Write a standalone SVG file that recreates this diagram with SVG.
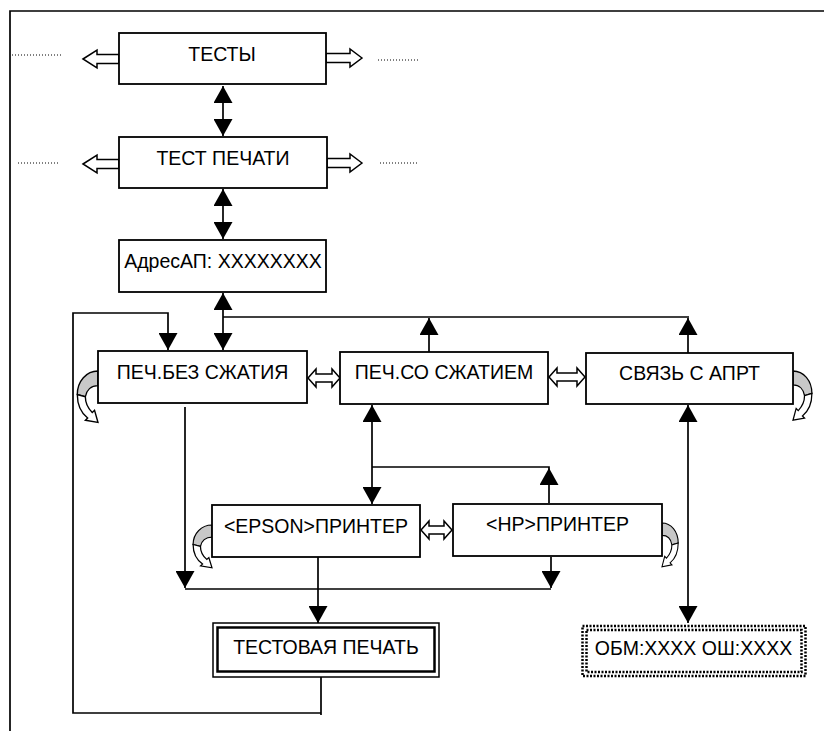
<svg xmlns="http://www.w3.org/2000/svg" width="824" height="731" viewBox="0 0 824 731">
<style>
  .box{fill:#fff;stroke:#000;stroke-width:1.8}
  .lbl{font-family:"Liberation Sans",Arial,sans-serif;font-size:19.5px;fill:#000;text-anchor:middle}
  .ln{fill:none;stroke:#000;stroke-width:1.7}
  .hol{fill:#fff;stroke:#000;stroke-width:1.5;stroke-linejoin:miter}
  .dot{stroke:#000;stroke-width:1;stroke-dasharray:1 2;fill:none}
  .dbx{fill:none;stroke:#000;stroke-width:2.5;stroke-dasharray:2 1.5}
  .cg{fill:#c8c8c8;stroke:#000;stroke-width:1.2}
  .cw{fill:#fff;stroke:#000;stroke-width:1.2}
</style>
<defs>
  <marker id="ah" viewBox="0 0 17 19" refX="17" refY="9.5" markerWidth="17" markerHeight="19" markerUnits="userSpaceOnUse" orient="auto-start-reverse">
    <path d="M0,0 L17,9.5 L0,19 Z" fill="#000"/>
  </marker>
  <g id="curl">
    <path class="cg" d="M0,0 C10,0 18,9 18,21 L11,23 C10,17 6,13 0,13 Z"/>
    <path class="cw" d="M18,21 C18,31 14,38 9,42 L11,44 L0,46 L3,35 L5,37 C9,33 11,28 11,23 Z"/>
  </g>
</defs>
<rect width="824" height="731" fill="#fff"/>
<g id="frame">
  <path class="ln" d="M10,731 L10,11 L824,11" stroke-width="2"/>
</g>
<g id="connectors">
  <path class="ln" d="M223,86 L223,136" marker-start="url(#ah)" marker-end="url(#ah)"/>
  <path class="ln" d="M223,189 L223,239" marker-start="url(#ah)" marker-end="url(#ah)"/>
  <path class="ln" d="M223,293 L223,350" marker-start="url(#ah)" marker-end="url(#ah)"/>
  <path class="ln" d="M223,317 L689,317"/>
  <path class="ln" d="M429,352 L429,318" marker-end="url(#ah)"/>
  <path class="ln" d="M688,353 L688,318" marker-end="url(#ah)"/>
  <path class="ln" d="M321,677 L321,715 M321,713 L73,713 L73,313 L168,313 L168,350" marker-end="url(#ah)"/>
  <path class="ln" d="M185,407 L185,588" marker-end="url(#ah)"/>
  <path class="ln" d="M185,589 L551,589"/>
  <path class="ln" d="M551,557 L551,588" marker-end="url(#ah)"/>
  <path class="ln" d="M372,405 L372,504" marker-start="url(#ah)" marker-end="url(#ah)"/>
  <path class="ln" d="M372,467 L549,467 L549,503 M549,503 L549,468" marker-end="url(#ah)"/>
  <path class="ln" d="M318,557 L318,623" marker-end="url(#ah)"/>
  <path class="ln" d="M688,405 L688,623" marker-start="url(#ah)" marker-end="url(#ah)"/>
  <polygon class="hol" points="83,59 97,50 97,54.5 119,54.5 119,63.5 97,63.5 97,68"/>
  <polygon class="hol" points="362,58 350,49 350,53.5 326,53.5 326,62.5 350,62.5 350,67"/>
  <polygon class="hol" points="83,164 97,155 97,159.5 119,159.5 119,168.5 97,168.5 97,173"/>
  <polygon class="hol" points="362,163 350,154 350,158.5 327,158.5 327,167.5 350,167.5 350,172"/>
  <polygon class="hol" points="308,378 316,369 316,374 332,374 332,369 340,378 332,387 332,382 316,382 316,387"/>
  <polygon class="hol" points="549,377 557,368 557,373 577,373 577,368 585,377 577,386 577,381 557,381 557,386"/>
  <polygon class="hol" points="421,530 429,521 429,526 444,526 444,521 452,530 444,539 444,534 429,534 429,539"/>
  <path class="dot" d="M12,55 L62,55 M378,60 L418,60 M18,163 L59,163 M380,163 L418,163"/>
  <use href="#curl" transform="translate(98,371) scale(-1.15,1.12)"/>
  <use href="#curl" transform="translate(793,371) scale(1.05,1.07)"/>
  <use href="#curl" transform="translate(212,525) scale(-1.05,0.93)"/>
  <use href="#curl" transform="translate(662,523) scale(0.9,0.95)"/>
</g>
<g id="n-tests">
  <rect class="box" x="119" y="33" width="207" height="51"/>
  <text class="lbl" x="222" y="61">ТЕСТЫ</text>
</g>
<g id="n-testprint">
  <rect class="box" x="119" y="137" width="208" height="51"/>
  <text class="lbl" x="223" y="165">ТЕСТ ПЕЧАТИ</text>
</g>
<g id="n-addr">
  <rect class="box" x="119" y="240" width="207" height="52"/>
  <text class="lbl" x="223" y="268">АдресАП: XXXXXXXX</text>
</g>
<g id="n-nocomp">
  <rect class="box" x="98" y="351" width="209" height="52"/>
  <text class="lbl" x="202.5" y="379">ПЕЧ.БЕЗ СЖАТИЯ</text>
</g>
<g id="n-comp">
  <rect class="box" x="340" y="352" width="208" height="52"/>
  <text class="lbl" x="444" y="379">ПЕЧ.СО СЖАТИЕМ</text>
</g>
<g id="n-link">
  <rect class="box" x="586" y="353" width="207" height="51"/>
  <text class="lbl" x="689.5" y="380">СВЯЗЬ С АПРТ</text>
</g>
<g id="n-epson">
  <rect class="box" x="212" y="505" width="208" height="52"/>
  <text class="lbl" x="316" y="533">&lt;EPSON&gt;ПРИНТЕР</text>
</g>
<g id="n-hp">
  <rect class="box" x="453" y="504" width="209" height="52"/>
  <text class="lbl" x="557.5" y="531">&lt;HP&gt;ПРИНТЕР</text>
</g>
<g id="n-testout">
  <rect x="213" y="623" width="226" height="54" fill="#fff" stroke="#000" stroke-width="1.5"/>
  <rect x="217.5" y="627.5" width="217" height="44" fill="none" stroke="#000" stroke-width="2.5"/>
  <text class="lbl" x="326" y="654">ТЕСТОВАЯ ПЕЧАТЬ</text>
</g>
<g id="n-obm">
  <rect x="582" y="626" width="224" height="50" fill="#fff"/>
  <rect class="dbx" x="582.5" y="626" width="223" height="50"/>
  <rect class="dbx" x="586.5" y="630" width="215" height="42"/>
  <text class="lbl" x="693.5" y="655">ОБМ:XXXX ОШ:XXXX</text>
</g>
</svg>
